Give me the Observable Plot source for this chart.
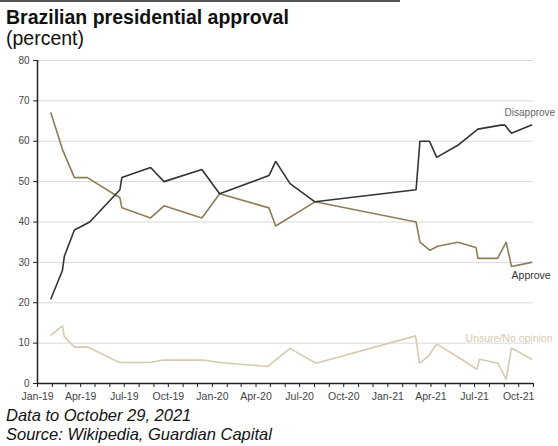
<!DOCTYPE html>
<html>
<head>
<meta charset="utf-8">
<script src="https://cdn.jsdelivr.net/npm/d3@7"></script>
<script src="https://cdn.jsdelivr.net/npm/@observablehq/plot@0.6"></script>
<style>
  html, body { margin: 0; padding: 0; background: #fff; width: 558px; height: 446px; overflow: hidden; }
  body { font-family: "Liberation Sans", Arial, sans-serif; position: relative; }
  #topline { position: absolute; left: 0; top: 0; width: 400px; height: 2px; background: #555; }
  #title { position: absolute; left: 6px; top: 7px; font-size: 19.5px; line-height: 21px; font-weight: bold; color: #111; white-space: nowrap; }
  #subtitle { position: absolute; left: 6px; top: 28px; font-size: 19.5px; line-height: 21px; color: #111; white-space: nowrap; }
  #chart { position: absolute; left: 0; top: 49px; }
  #foot1, #foot2 { position: absolute; left: 6px; font-size: 16.5px; line-height: 19px; font-style: italic; color: #111; white-space: nowrap; }
  #foot1 { top: 406px; }
  #foot2 { top: 425px; }
</style>
</head>
<body>
<div id="topline"></div>
<div id="title">Brazilian presidential approval</div>
<div id="subtitle">(percent)</div>
<div id="chart"></div>
<div id="foot1">Data to October 29, 2021</div>
<div id="foot2">Source: Wikipedia, Guardian Capital</div>
<script>
const approveDates = ["2019-01-29","2019-02-22","2019-03-19","2019-04-15","2019-06-22","2019-06-26","2019-08-25","2019-09-22","2019-12-10","2020-01-16","2020-04-28","2020-05-12","2020-08-02","2021-03-01","2021-03-09","2021-03-30","2021-04-15","2021-05-27","2021-07-04","2021-07-08","2021-08-18","2021-09-05","2021-09-16","2021-10-28"];
const approveValues = [67, 58, 51, 51, 46, 43.5, 41, 44, 41, 47, 43.5, 39, 45, 40, 35, 33, 34, 35, 33.7, 31, 31, 35, 29, 30];

const disapproveDates = ["2019-01-29","2019-02-22","2019-02-26","2019-03-19","2019-04-20","2019-06-22","2019-06-26","2019-08-25","2019-09-22","2019-12-10","2020-01-16","2020-04-28","2020-05-12","2020-06-11","2020-08-02","2021-03-01","2021-03-09","2021-03-29","2021-04-13","2021-05-27","2021-07-08","2021-08-25","2021-09-02","2021-09-16","2021-10-28"];
const disapproveValues = [21, 28, 31.5, 38, 40, 48, 51, 53.5, 50, 53, 47, 51.5, 55, 49.5, 45, 48, 60, 60, 56, 59, 63, 64, 64, 62, 64];

const unsureDates = ["2019-01-29","2019-02-22","2019-02-26","2019-03-19","2019-04-17","2019-06-21","2019-08-24","2019-09-20","2019-12-13","2020-01-16","2020-04-25","2020-06-11","2020-08-04","2021-02-28","2021-03-08","2021-03-29","2021-04-01","2021-04-13","2021-06-01","2021-07-06","2021-07-11","2021-08-19","2021-09-05","2021-09-16","2021-10-28"];
const unsureValues = [12, 14.3, 11.6, 9, 9, 5.2, 5.2, 5.8, 5.8, 5.2, 4.2, 8.7, 5, 11.8, 5, 7, 7.7, 9.8, 6.2, 3.5, 6, 5, 1, 8.8, 6];

const seriesNames = ["Approve", "Disapprove", "Unsure/No opinion"];
const seriesColors = ["#8f7c58", "#333333", "#d6cbb0"];
const labelColors = ["#333333", "#666666", "#d6cbb0"];
const yTicks = [0, 10, 20, 30, 40, 50, 60, 70, 80];
const xStart = "2019-01-01";
const xEnd = "2021-11-01";

const parse = d3.utcParse("%Y-%m-%d");
function rows(name, dates, values) {
  return dates.map((d, i) => ({series: name, date: parse(d), value: values[i]}));
}
const data = [
  ...rows(seriesNames[2], unsureDates, unsureValues),
  ...rows(seriesNames[0], approveDates, approveValues),
  ...rows(seriesNames[1], disapproveDates, disapproveValues)
];
const lastPoints = seriesNames.map(n => {
  const r = data.filter(d => d.series === n);
  return r[r.length - 1];
});

const months = d3.utcMonth.range(parse(xStart), d3.utcDay.offset(parse(xEnd), 1));
const fmt = d3.utcFormat("%b-%y");

const plot = Plot.plot({
  width: 558,
  height: 356,
  marginLeft: 37,
  marginRight: 25,
  marginTop: 11,
  marginBottom: 22,
  style: {fontFamily: "'Liberation Sans', Arial, sans-serif", background: "transparent"},
  x: {type: "utc", domain: [parse(xStart), parse(xEnd)]},
  y: {domain: [0, 80]},
  color: {domain: seriesNames, range: seriesColors},
  marks: [
    Plot.gridY(yTicks, {stroke: "#d9d9d9", strokeOpacity: 1, strokeWidth: 1}),
    Plot.line(data, {x: "date", y: "value", z: "series", stroke: "series", strokeWidth: 1.6, strokeLinejoin: "miter"}),
    Plot.axisY(yTicks, {tickSize: 4, tickPadding: 4, fontSize: 10, fill: "#444", stroke: "#222", label: null}),
    Plot.axisX(months, {tickSize: 4, tickPadding: 5, fontSize: 10.5, fill: "#444", stroke: "#222", label: null,
      tickFormat: d => d.getUTCMonth() % 3 === 0 ? fmt(d) : ""}),
    Plot.ruleX([parse(xStart)], {stroke: "#222", strokeWidth: 1.5}),
    Plot.ruleY([0], {stroke: "#222", strokeWidth: 1.5}),
    Plot.text([lastPoints[1]], {x: "date", y: "value", text: d => d.series, textAnchor: "start", dx: -27, dy: -12, fontSize: 10, fill: labelColors[1]}),
    Plot.text([lastPoints[0]], {x: "date", y: "value", text: d => d.series, textAnchor: "start", dx: -20, dy: 13, fontSize: 10.5, fill: labelColors[0]}),
    Plot.text([lastPoints[2]], {x: "date", y: "value", text: d => d.series, textAnchor: "start", dx: -66, dy: -21, fontSize: 10.5, fill: labelColors[2]})
  ]
});
plot.style.overflow = "visible";
document.getElementById("chart").appendChild(plot);
</script>
</body>
</html>
